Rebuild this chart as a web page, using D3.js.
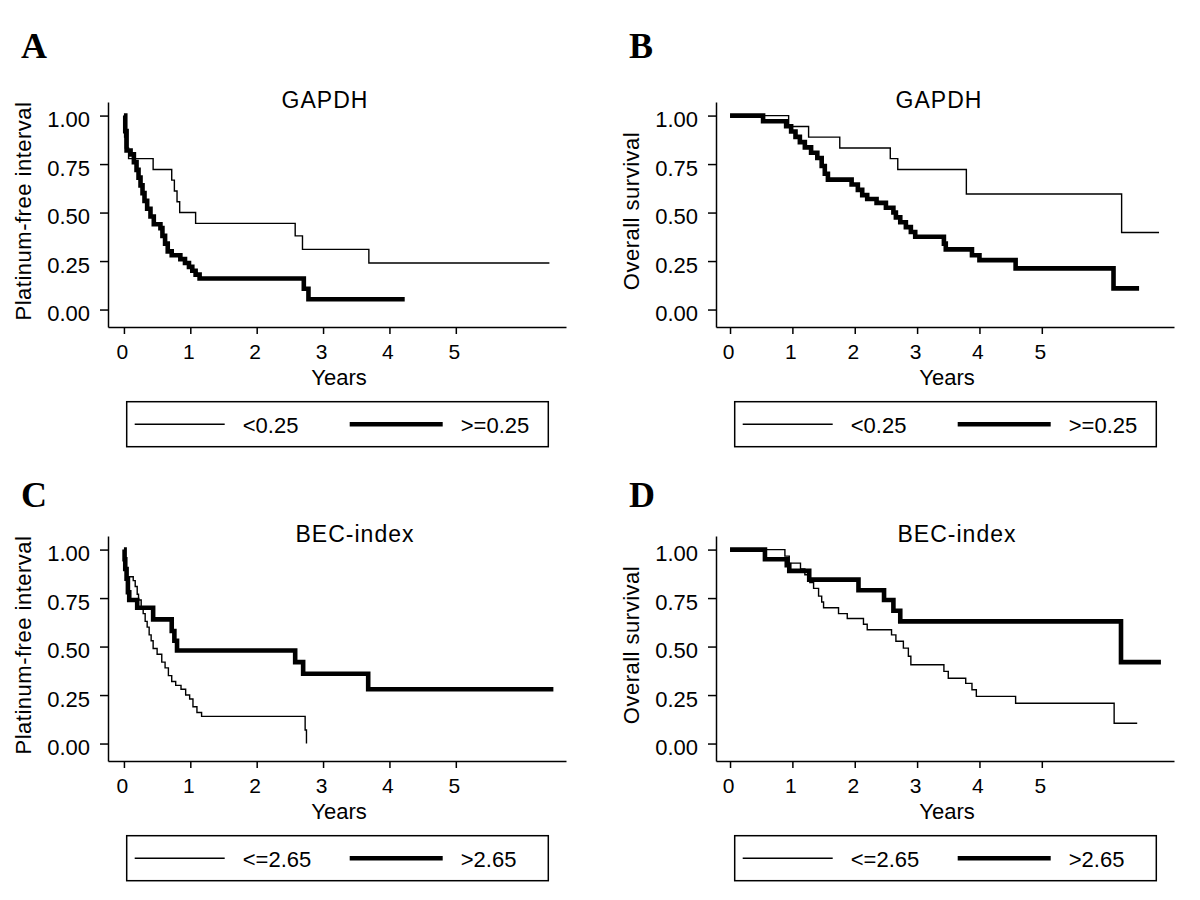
<!DOCTYPE html>
<html lang="en">
<head>
<meta charset="UTF-8">
<title>Kaplan-Meier curves</title>
<script src="https://cdn.jsdelivr.net/npm/d3@7"></script>
<style>
  body { margin: 0; background: #fff; }
  svg { display: block; }
  text { font-family: "Liberation Sans", Arial, sans-serif; fill: #000; }
  .letter { font-family: "Liberation Serif", "Times New Roman", serif; font-weight: bold; font-size: 36px; }
</style>
</head>
<body>
<div id="wrap"></div>
<script>
// axis ticks
var xTicks = [0, 1, 2, 3, 4, 5];
var yTicks = [0, 0.25, 0.5, 0.75, 1];

// panel texts
var panelLetters = ["A", "B", "C", "D"];
var panelTitles = ["GAPDH", "GAPDH", "BEC-index", "BEC-index"];
var yTitles = ["Platinum-free interval", "Overall survival", "Platinum-free interval", "Overall survival"];
var legendLabels = [["<0.25", ">=0.25"], ["<0.25", ">=0.25"], ["<=2.65", ">2.65"], ["<=2.65", ">2.65"]];

// A: GAPDH, platinum-free interval
var aThinTime = [0, 0.01, 0.02, 0.07, 0.44, 0.72, 0.76, 0.80, 0.84, 1.08, 2.58, 2.69, 3.69, 6.41];
var aThinSurv = [1, 0.889, 0.833, 0.778, 0.722, 0.667, 0.611, 0.556, 0.5, 0.444, 0.38, 0.31, 0.24, 0.24];
var aThickTime = [0, 0.02, 0.04, 0.10, 0.15, 0.19, 0.22, 0.25, 0.28, 0.31, 0.35, 0.40, 0.45, 0.55, 0.58, 0.62, 0.66, 0.72, 0.85, 0.92, 0.98, 1.03, 1.08, 1.14, 2.71, 2.78, 4.23];
var aThickSurv = [1, 0.92, 0.82, 0.80, 0.76, 0.72, 0.68, 0.64, 0.60, 0.56, 0.52, 0.48, 0.44, 0.42, 0.38, 0.34, 0.30, 0.28, 0.26, 0.24, 0.22, 0.20, 0.18, 0.16, 0.107, 0.053, 0.053];

// B: GAPDH, overall survival
var bThinTime = [0, 0.94, 1.26, 1.76, 2.57, 2.69, 3.79, 6.28, 6.88];
var bThinSurv = [1, 0.944, 0.889, 0.833, 0.778, 0.722, 0.596, 0.397, 0.397];
var bThickTime = [0, 0.53, 0.90, 0.98, 1.05, 1.12, 1.20, 1.30, 1.40, 1.47, 1.52, 1.57, 1.95, 2.05, 2.12, 2.20, 2.35, 2.50, 2.62, 2.66, 2.73, 2.82, 2.90, 2.97, 3.43, 3.46, 3.88, 4.00, 4.58, 6.15, 6.56];
var bThickSurv = [1, 0.971, 0.945, 0.918, 0.89, 0.863, 0.836, 0.808, 0.781, 0.74, 0.70, 0.67, 0.645, 0.617, 0.59, 0.57, 0.55, 0.525, 0.50, 0.475, 0.45, 0.425, 0.40, 0.375, 0.34, 0.31, 0.28, 0.255, 0.212, 0.109, 0.109];

// C: BEC-index, platinum-free interval
var cThinTime = [0, 0.01, 0.03, 0.14, 0.17, 0.20, 0.22, 0.26, 0.29, 0.32, 0.35, 0.38, 0.41, 0.44, 0.50, 0.57, 0.62, 0.67, 0.72, 0.78, 0.86, 0.93, 0.99, 1.04, 1.10, 1.17, 2.73, 2.75, 2.75];
var cThinSurv = [1, 0.93, 0.86, 0.84, 0.81, 0.77, 0.74, 0.70, 0.67, 0.63, 0.60, 0.56, 0.53, 0.49, 0.46, 0.42, 0.39, 0.35, 0.32, 0.30, 0.28, 0.25, 0.23, 0.19, 0.16, 0.14, 0.07, 0, 0];
var cThickTime = [0, 0.01, 0.02, 0.04, 0.06, 0.08, 0.20, 0.44, 0.72, 0.76, 0.80, 2.58, 2.70, 3.68, 6.47];
var cThickSurv = [1, 0.95, 0.90, 0.85, 0.78, 0.74, 0.70, 0.64, 0.58, 0.53, 0.48, 0.42, 0.36, 0.28, 0.28];

// D: BEC-index, overall survival
var dThinTime = [0, 0.88, 0.95, 1.13, 1.20, 1.28, 1.34, 1.42, 1.47, 1.50, 1.74, 1.88, 2.14, 2.20, 2.59, 2.66, 2.78, 2.86, 2.90, 3.43, 3.50, 3.78, 3.88, 3.95, 4.58, 6.16, 6.53];
var dThinSurv = [1, 0.966, 0.93, 0.90, 0.87, 0.83, 0.80, 0.76, 0.73, 0.70, 0.67, 0.645, 0.615, 0.587, 0.56, 0.527, 0.492, 0.45, 0.406, 0.372, 0.337, 0.31, 0.277, 0.243, 0.208, 0.105, 0.105];
var dThickTime = [0, 0.56, 0.91, 0.95, 1.27, 2.06, 2.47, 2.62, 2.73, 6.27, 6.91];
var dThickSurv = [1, 0.95, 0.92, 0.89, 0.845, 0.79, 0.74, 0.685, 0.63, 0.42, 0.42];

// x-axis extent (years) for each panel
var xDomains = [[-0.24, 6.66], [-0.225, 7.12], [-0.24, 6.66], [-0.225, 7.12]];

var series = [
  [[aThinTime, aThinSurv], [aThickTime, aThickSurv]],
  [[bThinTime, bThinSurv], [bThickTime, bThickSurv]],
  [[cThinTime, cThinSurv], [cThickTime, cThickSurv]],
  [[dThinTime, dThinSurv], [dThickTime, dThickSurv]]
];

var WIDTH = 1200, HEIGHT = 900;
var COLX = [108, 716], ROWY = [0, 434];
var PLOTW = 458, TOP = 102, BOTTOM = 327;
var LINEW = [1.4, 4.6];
var titleShift = [-12, -6, 18, 12];

var svg = d3.select('#wrap').append('svg').attr('width', WIDTH).attr('height', HEIGHT);

for (var p = 0; p < 4; p++) {
  var ox = COLX[p % 2], oy = ROWY[Math.floor(p / 2)];
  var x = d3.scaleLinear().domain(xDomains[p]).range([ox, ox + PLOTW]);
  var y = d3.scaleLinear().domain([-0.09, 1.07]).range([oy + BOTTOM, oy + TOP]);
  var g = svg.append('g').attr('class', 'panel panel' + p);

  // panel letter
  svg.append('text').attr('class', 'letter')
    .attr('x', ox - 87).attr('y', oy + (p < 2 ? 58 : 73))
    .text(panelLetters[p]);

  // title
  g.append('text')
    .attr('x', ox + PLOTW / 2 + titleShift[p]).attr('y', oy + 108)
    .attr('text-anchor', 'middle')
    .style('font-size', '23px').style('letter-spacing', '1px')
    .text(panelTitles[p]);

  // y axis
  var yAxis = g.append('g').attr('transform', 'translate(' + ox + ',0)')
    .call(d3.axisLeft(y).tickValues(yTicks).tickFormat(d3.format('.2f'))
      .tickSize(8).tickSizeOuter(0).tickPadding(10));
  yAxis.selectAll('text').attr('dy', '0.5em').style('font-size', '22px').style('font-family', '"Liberation Sans", Arial, sans-serif');
  yAxis.selectAll('path, line').attr('stroke', '#000').attr('stroke-width', 1.5);

  // x axis
  var xAxis = g.append('g').attr('transform', 'translate(0,' + (oy + BOTTOM) + ')')
    .call(d3.axisBottom(x).tickValues(xTicks).tickFormat(d3.format('d'))
      .tickSize(7).tickSizeOuter(0).tickPadding(10.5));
  xAxis.selectAll('text').attr('dx', -2).style('font-size', '21px').style('font-family', '"Liberation Sans", Arial, sans-serif');
  xAxis.selectAll('path, line').attr('stroke', '#000').attr('stroke-width', 1.5);

  // axis titles
  g.append('text')
    .attr('transform', 'translate(' + (ox - 77) + ',' + (oy + 211) + ') rotate(-90)')
    .attr('text-anchor', 'middle')
    .style('font-size', '22px').style('letter-spacing', '0.5px')
    .text(yTitles[p]);
  g.append('text')
    .attr('x', ox + 231).attr('y', oy + 385)
    .attr('text-anchor', 'middle')
    .style('font-size', '22px')
    .text('Years');

  // survival curves
  var line = d3.line()
    .x(function(d) { return x(d[0]); })
    .y(function(d) { return y(d[1]); })
    .curve(d3.curveStepAfter);
  for (var s = 0; s < 2; s++) {
    var pts = d3.zip(series[p][s][0], series[p][s][1]);
    g.append('path')
      .attr('d', line(pts))
      .attr('fill', 'none')
      .attr('stroke', '#000')
      .attr('stroke-width', LINEW[s])
      .attr('stroke-linejoin', 'miter');
  }

  // legend
  var lg = g.append('g').attr('transform', 'translate(' + (ox + 18.7) + ',' + (oy + 401.7) + ')');
  lg.append('rect').attr('width', 421.6).attr('height', 45)
    .attr('fill', 'none').attr('stroke', '#000').attr('stroke-width', 1.5);
  var keyX = [[8, 98, 116], [223, 316, 334]];
  for (var k = 0; k < 2; k++) {
    lg.append('line')
      .attr('x1', keyX[k][0]).attr('x2', keyX[k][1])
      .attr('y1', 22.6).attr('y2', 22.6)
      .attr('stroke', '#000').attr('stroke-width', LINEW[k]);
    lg.append('text')
      .attr('x', keyX[k][2]).attr('y', 31.6)
      .style('font-size', '22px')
      .text(legendLabels[p][k]);
  }
}
</script>
</body>
</html>
